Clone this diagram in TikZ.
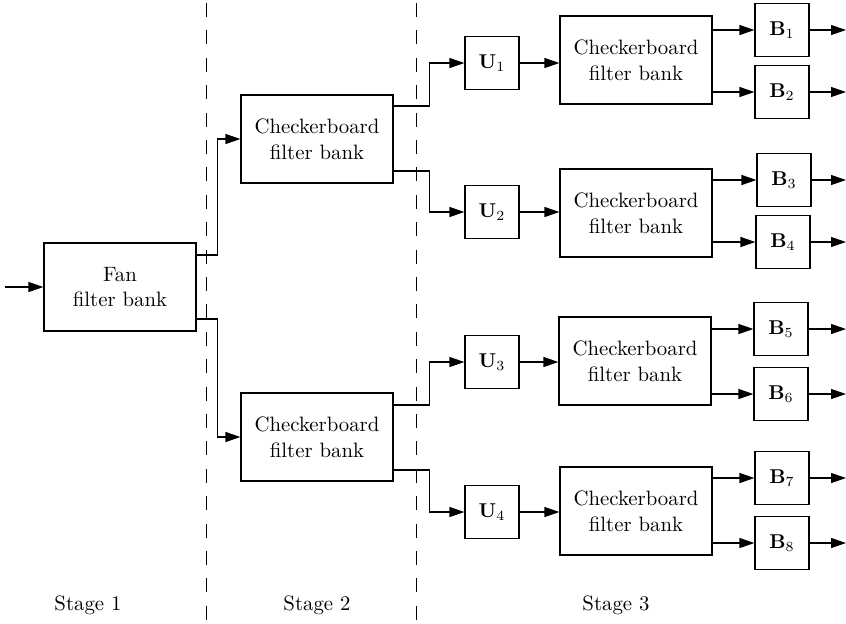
\documentclass[tikz,border=0pt]{standalone}
\usepackage{amsmath}
\usepackage{tikz}
\usetikzlibrary{positioning,arrows.meta,calc}

\begin{document}
\begin{tikzpicture}[x=0.5pt, y=-0.5pt, font=\fontsize{10.4}{12.8}\selectfont, line width=0.6pt,
  box/.style={draw, align=center, minimum width=76pt, minimum height=44pt, inner sep=1pt},
  sbox/.style={draw, minimum width=27pt, minimum height=26.5pt, inner sep=1pt},
  arr/.style={-{Triangle[length=7.5pt,width=5pt]}},
  sep/.style={dash pattern=on 7pt off 6.7pt}]
\useasboundingbox (0,0) rectangle (846,623);
% stage boundaries
\draw[sep] (206.5,3) -- (206.5,623); \draw[sep] (416.5,3) -- (416.5,623);
% stage 1
\coordinate (in) at (5,287);
\node[box] (fan) at (120,287) {Fan\\ filter bank};
\draw[arr] (in) -- (fan);
% stage 2
\node[box] (cbA) at (317,139) {Checkerboard\\ filter bank};
\node[box] (cbB) at (317,437) {Checkerboard\\ filter bank};
\draw[arr] ($(fan.east)+(0,-32)$) -| ($(cbA.west)+(-23,0)$) -- (cbA.west);
\draw[arr] ($(fan.east)+(0,32)$) -| ($(cbB.west)+(-23,0)$) -- (cbB.west);
% stage 3
\node[sbox] (u1) at (492,63) {$\mathbf{U}_1$};
\node[sbox] (u2) at (492,212) {$\mathbf{U}_2$};
\node[sbox] (u3) at (492,362) {$\mathbf{U}_3$};
\node[sbox] (u4) at (492,512) {$\mathbf{U}_4$};
\draw[arr] ($(cbA.east)+(0,-33)$) -| ($(u1.west)+(-35,0)$) -- (u1.west);
\draw[arr] ($(cbA.east)+(0,32)$) -| ($(u2.west)+(-35,0)$) -- (u2.west);
\draw[arr] ($(cbB.east)+(0,-32)$) -| ($(u3.west)+(-35,0)$) -- (u3.west);
\draw[arr] ($(cbB.east)+(0,33)$) -| ($(u4.west)+(-35,0)$) -- (u4.west);
\node[box] (cb1) at (636,60) {Checkerboard\\ filter bank};
\node[box] (cb2) at (636,213) {Checkerboard\\ filter bank};
\node[box] (cb3) at (635,361) {Checkerboard\\ filter bank};
\node[box] (cb4) at (636,511) {Checkerboard\\ filter bank};
\draw[arr] (u1) -- (u1 -| cb1.west); \draw[arr] (u2) -- (u2 -| cb2.west);
\draw[arr] (u3) -- (u3 -| cb3.west); \draw[arr] (u4) -- (u4 -| cb4.west);
\node[sbox] (b1) at (782,30) {$\mathbf{B}_1$};
\node[sbox] (b2) at (782,92) {$\mathbf{B}_2$};
\node[sbox] (b3) at (784,180) {$\mathbf{B}_3$};
\node[sbox] (b4) at (783,242) {$\mathbf{B}_4$};
\node[sbox] (b5) at (781,329) {$\mathbf{B}_5$};
\node[sbox] (b6) at (781,394) {$\mathbf{B}_6$};
\node[sbox] (b7) at (782,478) {$\mathbf{B}_7$};
\node[sbox] (b8) at (782,543) {$\mathbf{B}_8$};
\draw[arr] (b1 -| cb1.east) -- (b1); \draw[arr] (b2 -| cb1.east) -- (b2);
\draw[arr] (b3 -| cb2.east) -- (b3); \draw[arr] (b4 -| cb2.east) -- (b4);
\draw[arr] (b5 -| cb3.east) -- (b5); \draw[arr] (b6 -| cb3.east) -- (b6);
\draw[arr] (b7 -| cb4.east) -- (b7); \draw[arr] (b8 -| cb4.east) -- (b8);
\coordinate (rim) at (846,0);
\draw[arr] (b1) -- (b1 -| rim); \draw[arr] (b2) -- (b2 -| rim);
\draw[arr] (b3) -- (b3 -| rim); \draw[arr] (b4) -- (b4 -| rim);
\draw[arr] (b5) -- (b5 -| rim); \draw[arr] (b6) -- (b6 -| rim);
\draw[arr] (b7) -- (b7 -| rim); \draw[arr] (b8) -- (b8 -| rim);
% labels
\node (s1) at (88,605) {Stage 1};
\node (s2) at (317,605) {Stage 2};
\node (s3) at (616,605) {Stage 3};
\end{tikzpicture}
\end{document}
